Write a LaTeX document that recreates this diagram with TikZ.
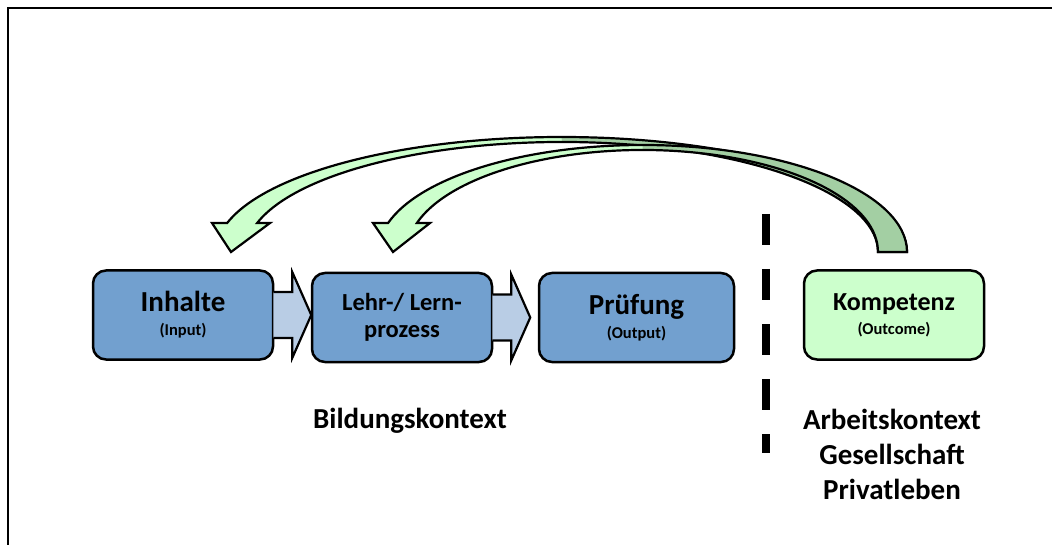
\documentclass[tikz,border=0pt]{standalone}
\usepackage{fontspec}
\setmainfont{Carlito}
\usetikzlibrary{positioning,calc}
\definecolor{stageblue}{RGB}{114,160,207}
\definecolor{flowblue}{RGB}{185,205,229}
\definecolor{palegreen}{RGB}{204,255,204}
\definecolor{deepgreen}{RGB}{163,207,163}
\newcommand{\subtxt}{\fontsize{16.5}{24}\selectfont}
% feedback arrows
\newcommand{\loopA}{(907,252) arc[start angle=0, end angle=-165.393, x radius=345.5, y radius=115] -- (212,223) -- (231,252) -- (270,223) -- (257.18,223) arc[start angle=-164.714, end angle=0, x radius=316, y radius=110] -- cycle}
\newcommand{\backA}{(907,252) arc[start angle=0, end angle=-90, x radius=345.5, y radius=115] -- (562,142) arc[start angle=-90, end angle=0, x radius=316, y radius=110] -- cycle}
\newcommand{\loopB}{(907,252) arc[start angle=0, end angle=-164.274, x radius=264.4, y radius=107] -- (373,223) -- (393,252) -- (430,223) -- (416.9,223) arc[start angle=-163.482, end angle=0, x radius=235.4, y radius=102] -- cycle}
\newcommand{\backB}{(907,252) arc[start angle=0, end angle=-90, x radius=264.4, y radius=107] -- (642.6,150) arc[start angle=-90, end angle=0, x radius=235.4, y radius=102] -- cycle}
\tikzset{
  stage/.style={draw=black, line width=2.5pt, rounded corners=13pt, fill=stageblue,
    minimum width=180pt, minimum height=89pt, align=center,
    font=\bfseries\fontsize{29}{24}\selectfont},
  flow/.style={draw=black, line width=2.2pt, fill=flowblue, line join=miter},
  ribbon/.style={draw=black, line width=2.2pt, line join=miter},
  label/.style={font=\bfseries\fontsize{29}{35}\selectfont, align=center, inner sep=0pt}
}

\begin{document}
\begin{tikzpicture}[x=1pt, y=-1pt]
  \useasboundingbox (0,0) rectangle (1052,545);
  \draw [line width=2pt] (8,545) -- (8,8) -- (1052,8);

  \node (inh) [stage] at (183,315) {Inhalte\\{\subtxt (Input)}};
  \node (lehr) [stage, font=\bfseries\fontsize{24.5}{27}\selectfont] at (402,317.5) {Lehr-/ Lern-\\prozess};
  \node (prf) [stage, minimum width=195pt] at (636.5,317.5) {Prüfung\\{\subtxt (Output)}};
  \node (komp) [stage, fill=palegreen, font=\bfseries\fontsize{26}{24}\selectfont] at (894,315) {Kompetenz\\{\subtxt (Outcome)}};

  \foreach \a in {inh, lehr}
    \draw [flow] ([xshift=-1pt,yshift=23pt]\a.east) -- ([xshift=18pt,yshift=23pt]\a.east)
      -- ([xshift=18pt,yshift=43pt]\a.east) -- ([xshift=37pt,yshift=0pt]\a.east)
      -- ([xshift=18pt,yshift=-43pt]\a.east) -- ([xshift=18pt,yshift=-23pt]\a.east)
      -- ([xshift=-1pt,yshift=-23pt]\a.east);

  \fill [palegreen] \loopA;
  \fill [deepgreen] \backA;
  \draw [ribbon] \loopA;
  \fill [palegreen] \loopB;
  \fill [deepgreen] \backB;
  \draw [ribbon] \loopB;

  \draw [line width=8pt, dash pattern=on 31pt off 24pt] (766,214) -- (766,453);

  \node (bild) [label, anchor=base] at (410,428) {Bildungskontext};
  \node (ctx) [label, anchor=base] at (892,499) {Arbeitskontext\\Gesellschaft\\Privatleben};
\end{tikzpicture}
\end{document}
